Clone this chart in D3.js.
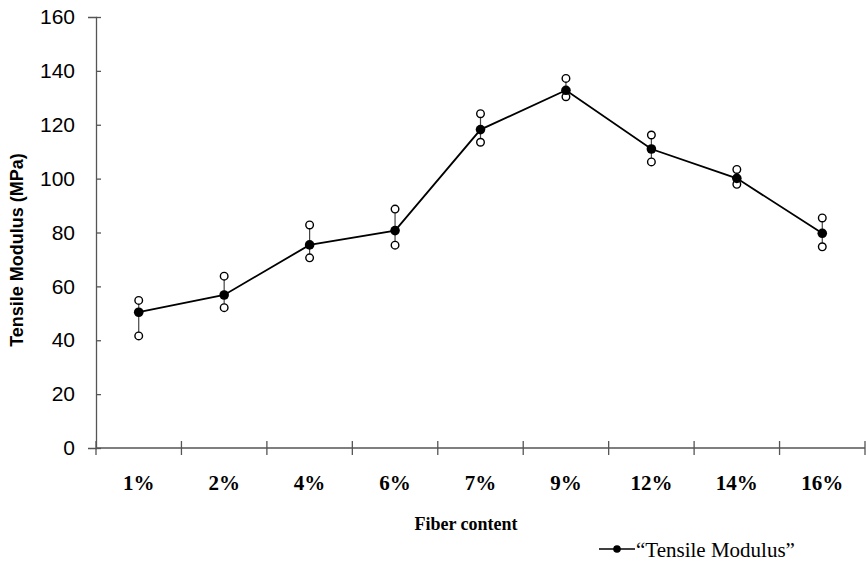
<!DOCTYPE html>
<html lang="en">
<head>
<meta charset="UTF-8">
<title>Tensile Modulus</title>
<script src="https://d3js.org/d3.v7.min.js"></script>
<style>
    body { margin: 0; background: #fff; }
    svg { display: block; }
</style>
</head>
<body>
<script>
    // Data
    const categories = ["1%", "2%", "4%", "6%", "7%", "9%", "12%", "14%", "16%"];
    const meanValues = [50.4, 56.8, 75.4, 80.7, 118.2, 132.8, 111.0, 100.1, 79.7];
    const upperValues = [54.8, 63.8, 82.8, 88.7, 124.1, 137.2, 116.2, 103.4, 85.4];
    const lowerValues = [41.6, 52.1, 70.6, 75.3, 113.5, 130.4, 106.2, 97.9, 74.7];
    const yTicks = [0, 20, 40, 60, 80, 100, 120, 140, 160];

    const width = 866, height = 565;
    const margin = { left: 96, right: 1, top: 17, bottom: 117 };

    const svg = d3.select("body").append("svg")
        .attr("width", width)
        .attr("height", height);

    const x = d3.scaleBand()
        .domain(categories)
        .range([margin.left, width - margin.right]);

    const y = d3.scaleLinear()
        .domain([0, 160])
        .range([height - margin.bottom, margin.top]);

    const axisColor = "#555";

    // Y axis
    const yAxis = svg.append("g")
        .attr("transform", `translate(${margin.left},0)`)
        .call(d3.axisLeft(y).tickValues(yTicks).tickSize(8).tickPadding(13));
    yAxis.select(".domain").attr("stroke", axisColor).attr("stroke-width", 1.3);
    yAxis.selectAll(".tick line").attr("stroke", axisColor).attr("x2", 5).attr("stroke-width", 1.3);
    yAxis.selectAll("text")
        .attr("fill", "#000")
        .style("font-family", "'Liberation Sans', Arial, sans-serif")
        .style("font-size", "21px");

    // X axis, ticks at band edges
    const xg = svg.append("g").attr("transform", `translate(0,${y(0)})`);
    xg.append("line")
        .attr("x1", margin.left).attr("x2", width - margin.right)
        .attr("stroke", axisColor).attr("stroke-width", 1.3);
    const edges = categories.map(c => x(c)).concat([x(categories[categories.length - 1]) + x.bandwidth()]);
    xg.selectAll(".xt").data(edges).enter().append("line")
        .attr("x1", d => d).attr("x2", d => d)
        .attr("y1", -7).attr("y2", 7)
        .attr("stroke", axisColor).attr("stroke-width", 1.3);
    xg.selectAll(".xl").data(categories).enter().append("text")
        .attr("x", d => x(d) + x.bandwidth() / 2)
        .attr("y", 42)
        .attr("text-anchor", "middle")
        .style("font-family", "'Liberation Serif', 'Times New Roman', serif")
        .style("font-weight", "bold")
        .style("font-size", "21px")
        .text(d => d);

    // Axis titles
    svg.append("text")
        .attr("x", 466).attr("y", 530)
        .attr("text-anchor", "middle")
        .style("font-family", "'Liberation Serif', 'Times New Roman', serif")
        .style("font-weight", "bold")
        .style("font-size", "18px")
        .text("Fiber content");

    svg.append("text")
        .attr("transform", "translate(23,250) rotate(-90)")
        .attr("text-anchor", "middle")
        .style("font-family", "'Liberation Sans', Arial, sans-serif")
        .style("font-weight", "bold")
        .style("font-size", "18px")
        .text("Tensile Modulus (MPa)");

    const cx = i => x(categories[i]) + x.bandwidth() / 2;

    // Error bars
    svg.selectAll(".err").data(categories).enter().append("line")
        .attr("x1", (d, i) => cx(i)).attr("x2", (d, i) => cx(i))
        .attr("y1", (d, i) => y(upperValues[i])).attr("y2", (d, i) => y(lowerValues[i]))
        .attr("stroke", "#444").attr("stroke-width", 1.2);

    // Line
    const line = d3.line()
        .x((d, i) => cx(i))
        .y(d => y(d));
    svg.append("path")
        .datum(meanValues)
        .attr("d", line)
        .attr("fill", "none")
        .attr("stroke", "#000")
        .attr("stroke-width", 1.8);

    // Open circles for upper / lower
    [upperValues, lowerValues].forEach(vals => {
        svg.append("g").selectAll("circle").data(vals).enter().append("circle")
            .attr("cx", (d, i) => cx(i))
            .attr("cy", d => y(d))
            .attr("r", 3.8)
            .attr("fill", "#fff")
            .attr("stroke", "#000")
            .attr("stroke-width", 1.4);
    });

    // Mean points
    svg.append("g").selectAll("circle").data(meanValues).enter().append("circle")
        .attr("cx", (d, i) => cx(i))
        .attr("cy", d => y(d))
        .attr("r", 4.8)
        .attr("fill", "#000");

    // Legend
    const lg = svg.append("g").attr("transform", "translate(599,549)");
    lg.append("line").attr("x1", 0).attr("x2", 36).attr("stroke", "#000").attr("stroke-width", 1.6);
    lg.append("circle").attr("cx", 18).attr("r", 3.8).attr("fill", "#000");
    lg.append("text")
        .attr("x", 37).attr("y", 8)
        .style("font-family", "'Liberation Serif', 'Times New Roman', serif")
        .style("font-size", "21px")
        .text("\u201CTensile Modulus\u201D");
</script>
</body>
</html>
